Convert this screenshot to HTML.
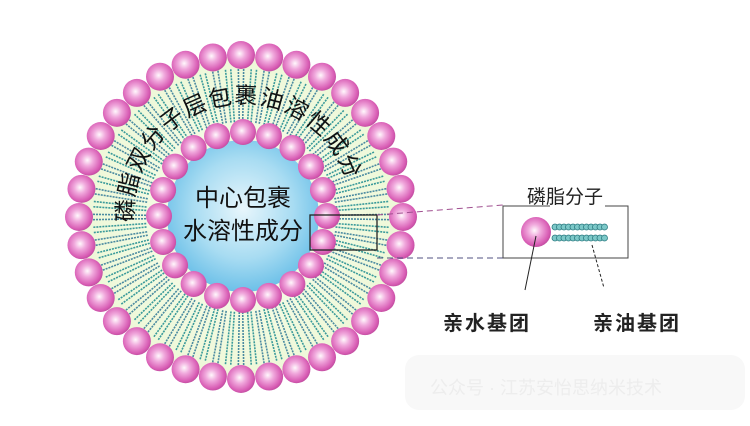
<!DOCTYPE html>
<html><head><meta charset="utf-8"><style>
body{margin:0;background:#fff;width:750px;height:421px;overflow:hidden}
text{font-family:"Liberation Sans","Noto Sans CJK SC",sans-serif}
</style></head><body>
<svg id="s" width="750" height="421" viewBox="0 0 750 421" xmlns="http://www.w3.org/2000/svg">
<defs>
<radialGradient id="bead" cx="45%" cy="45%" r="60%">
<stop offset="0" stop-color="#fff8fc"/><stop offset="0.35" stop-color="#f0a8dc"/><stop offset="0.8" stop-color="#d85cb4"/><stop offset="1" stop-color="#b84898"/>
</radialGradient>
<radialGradient id="core" cx="50%" cy="45%" r="55%">
<stop offset="0" stop-color="#e8f6fc"/><stop offset="0.6" stop-color="#a8dcf2"/><stop offset="1" stop-color="#6cc0e8"/>
</radialGradient>
<radialGradient id="ring" cx="50%" cy="50%" r="50%">
<stop offset="0.5" stop-color="#f4fbe4"/><stop offset="1" stop-color="#eef8d8"/>
</radialGradient>
<path id="arc" d="M 134,222 A 109,109 0 0 1 350,194"/>
</defs>
<circle cx="241" cy="217" r="160" fill="url(#ring)"/>
<g id="tails"></g>
<circle cx="243" cy="216" r="76" fill="url(#core)"/>
<g id="beads"></g>
<text font-size="23" fill="#111" textLength="318" lengthAdjust="spacing"><textPath href="#arc" textLength="318" lengthAdjust="spacing">磷脂双分子层包裹油溶性成分</textPath></text>
<text x="243" y="206" font-size="24" text-anchor="middle" fill="#111">中心包裹</text>
<text x="243" y="239" font-size="24" text-anchor="middle" fill="#111">水溶性成分</text>
<rect x="310" y="215" width="67" height="35" fill="none" stroke="#222" stroke-width="1.3"/>
<line x1="377" y1="215" x2="503" y2="205" stroke="#a05090" stroke-dasharray="6,4" stroke-width="1"/>
<line x1="377" y1="258" x2="503" y2="258" stroke="#505080" stroke-dasharray="6,4" stroke-width="1"/>
<rect x="503" y="206" width="125" height="52" fill="#fff" stroke="#444" stroke-width="1"/>
<rect x="550" y="198" width="55" height="12" fill="#fff"/>
<text x="565" y="203" font-size="19" text-anchor="middle" fill="#222">磷脂分子</text>
<g id="mt"></g>
<circle cx="536" cy="232" r="15" fill="url(#bead)"/>
<line x1="536" y1="236" x2="525" y2="290" stroke="#222" stroke-width="1"/>
<line x1="592" y1="245" x2="604" y2="288" stroke="#222" stroke-width="1" stroke-dasharray="3,2"/>
<text x="487" y="330" font-size="20" font-weight="bold" text-anchor="middle" fill="#222" letter-spacing="2">亲水基团</text>
<text x="637" y="330" font-size="20" font-weight="bold" text-anchor="middle" fill="#222" letter-spacing="2">亲油基团</text>
<rect x="405" y="355" width="340" height="55" rx="14" fill="#f8f8f8"/>
<text x="430" y="394" font-size="18" fill="#ededed">公众号 · 江苏安怡思纳米技术</text>
</svg>
<script>
var NS="http://www.w3.org/2000/svg";
function el(t,a,p){var e=document.createElementNS(NS,t);for(var k in a)e.setAttribute(k,a[k]);p.appendChild(e);return e;}
var tails=document.getElementById('tails'),beads=document.getElementById('beads');
var cx=241,cy=217;
for(var i=0;i<72;i++){var a=i/72*2*Math.PI;
 for(var j=-1;j<=1;j+=2){var o=j*0.018;
 el('line',{x1:cx+95*Math.cos(a+o),y1:cy+95*Math.sin(a+o),x2:cx+148*Math.cos(a+o),y2:cy+148*Math.sin(a+o),stroke:i%2?'#3a9a9a':'#4a8aa0','stroke-width':1.6,'stroke-dasharray':'2,1'},tails);}}
for(var i=0;i<36;i++){var a=i/36*2*Math.PI-Math.PI/2;
 el('circle',{cx:cx+162*Math.cos(a),cy:cy+162*Math.sin(a),r:14,fill:'url(#bead)'},beads);}
for(var i=0;i<20;i++){var a=i/20*2*Math.PI-Math.PI/2;
 el('circle',{cx:243+84*Math.cos(a),cy:216+84*Math.sin(a),r:13,fill:'url(#bead)'},beads);}
var mt=document.getElementById('mt');
for(var r=0;r<2;r++)for(var k=0;k<12;k++)
 el('circle',{cx:555+k*4.5,cy:227+r*11,r:3,fill:'#7cc8c8',stroke:'#2a7a80','stroke-width':0.8},mt);
</script>
</body></html>
